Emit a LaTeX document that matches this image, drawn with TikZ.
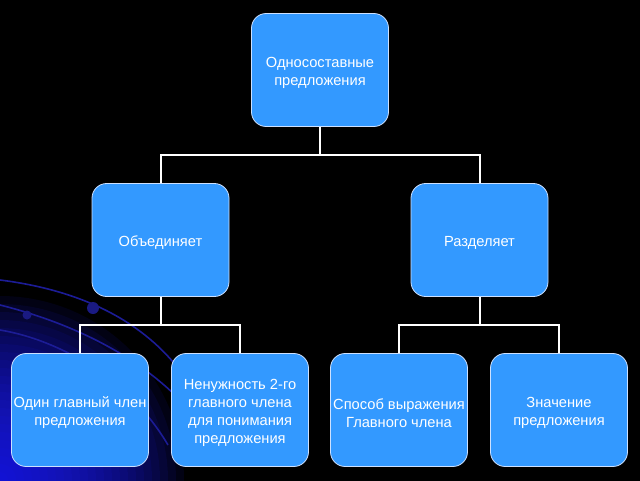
\documentclass[tikz,border=0pt]{standalone}
\usepackage{fontspec}
\setmainfont{Liberation Sans}
\usetikzlibrary{calc}
\definecolor{boxfill}{RGB}{51,153,255}
\definecolor{boxedge}{RGB}{205,225,255}
\definecolor{arcblue}{RGB}{28,28,150}
\definecolor{dotblue}{RGB}{26,26,130}
\definecolor{glowblue}{RGB}{30,30,255}
\tikzset{
  box/.style={rectangle, rounded corners=11pt, fill=boxfill, draw=boxedge,
    line width=0.6pt, minimum width=102.75pt, minimum height=84.75pt, inner sep=0pt},
  txt/.style={text=white, font=\fontsize{11}{13.5}\selectfont, align=center, inner sep=0pt, yshift=-2.3pt},
  conn/.style={draw=white, line width=1.5pt},
  swirl/.style={draw=arcblue, line width=1.2pt},
  glowring/.style={fill=glowblue, fill opacity=0.08}
}
\begin{document}
\begin{tikzpicture}[x=0.75pt, y=-0.75pt]
\useasboundingbox (0,0) rectangle (640,480);
\fill[black] (-3,-3) rectangle (643,483);
\begin{scope}
  \clip (-3,-3) rectangle (643,483);
  \foreach \r in {8,16,...,184} { \fill[glowring] (0,480) circle (\r); }
  \draw[swirl] (0,280) .. controls (80,290) and (140,320) .. (178,368);
  \draw[swirl] (0,305) .. controls (40,315) and (120,340) .. (178,398);
  \draw[swirl] (0,330) .. controls (60,340) and (130,380) .. (168,445);
  \fill[dotblue] (27,315) circle (4.5);
  \fill[dotblue] (93,308) circle (6);
\end{scope}

\node[box, label={[txt]center:Односоставные\\предложения}] (top) at (320,70) {};
\node[box, label={[txt]center:Объединяет}] (ob) at (160.5,240) {};
\node[box, label={[txt]center:Разделяет}] (raz) at (479.5,240) {};
\node[box, label={[txt]center:Один главный член\\предложения}] (c1) at (80,410) {};
\node[box, label={[txt]center:Ненужность 2-го\\главного члена\\для понимания\\предложения}] (c2) at (240,410) {};
\node[box, label={[txt]center:Способ выражения\\Главного члена}] (c3) at (399,410) {};
\node[box, label={[txt]center:Значение\\предложения}] (c4) at (559,410) {};

\draw[conn] (top.south) -- ++(0,28.5) -| (ob.north);
\draw[conn] (top.south) -- ++(0,28.5) -| (raz.north);
\draw[conn] (ob.south) -- ++(0,28.5) -| (c1.north);
\draw[conn] (ob.south) -- ++(0,28.5) -| (c2.north);
\draw[conn] (raz.south) -- ++(0,28.5) -| (c3.north);
\draw[conn] (raz.south) -- ++(0,28.5) -| (c4.north);
\end{tikzpicture}
\end{document}
